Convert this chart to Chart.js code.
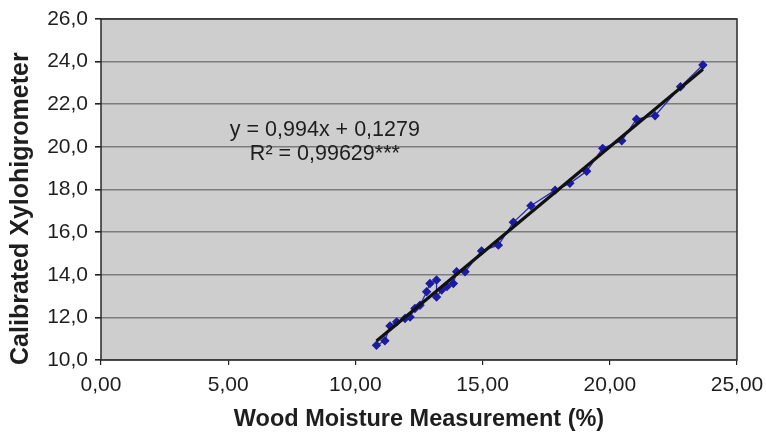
<!DOCTYPE html>
<html>
<head>
<meta charset="utf-8">
<script src="https://cdn.jsdelivr.net/npm/chart.js@4"></script>
<style>
  html, body { margin: 0; padding: 0; background: #fff; }
  #wrap { width: 766px; height: 434px; }
</style>
</head>
<body>
<div id="wrap"><canvas id="calChart" width="766" height="434"></canvas></div>
<script>
// Wood moisture (%) vs calibrated xylohigrometer readings
const woodMoisture = [10.83, 11.16, 11.36, 11.62, 11.95, 12.15, 12.34, 12.54, 12.80, 12.93,
  13.19, 13.19, 13.39, 13.60, 13.85, 13.98, 14.31, 14.96, 15.62, 16.21,
  16.90, 17.85, 18.43, 19.09, 19.72, 20.47, 21.05, 21.78, 22.78, 23.66];
const xylohigrometer = [10.69, 10.90, 11.60, 11.79, 11.95, 12.02, 12.42, 12.57, 13.20, 13.59,
  13.75, 12.96, 13.28, 13.45, 13.59, 14.14, 14.14, 15.12, 15.39, 16.46,
  17.24, 17.97, 18.29, 18.86, 19.93, 20.29, 21.30, 21.46, 22.82, 23.84];

// regression from the figure
const slope = 0.994;
const intercept = 0.1279;
const eqLines = ["y = 0,994x + 0,1279", "R\u00b2 = 0,99629***"];

const xTicks = [0, 5, 10, 15, 20, 25];
const yTicks = [10, 12, 14, 16, 18, 20, 22, 24, 26];
const yTitle = "Calibrated Xylohigrometer";
const xTitle = "Wood Moisture Measurement (%)";

const points = woodMoisture.map((x, i) => ({ x, y: xylohigrometer[i] }));
const xMin = Math.min(...woodMoisture);
const xMax = Math.max(...woodMoisture);
const trend = [xMin, xMax].map(x => ({ x, y: slope * x + intercept }));

const comma = (v, d) => v.toFixed(d).replace(".", ",");
const FONT = "'Liberation Sans', Arial, sans-serif";

// grey plot area, dark frame, equation text and the y title
const plotFrame = {
  id: "plotFrame",
  beforeDatasetsDraw(chart) {
    const { ctx, chartArea: a } = chart;
    ctx.save();
    ctx.fillStyle = "#cecece";
    ctx.globalCompositeOperation = "destination-over";
    ctx.fillRect(a.left, a.top, a.width, a.height);
    ctx.restore();
  },
  afterDatasetsDraw(chart) {
    const { ctx, chartArea: a, scales } = chart;
    ctx.save();
    ctx.strokeStyle = "#2a2a2a";
    ctx.lineWidth = 1.5;
    ctx.strokeRect(a.left, a.top, a.width, a.height);

    ctx.fillStyle = "#1e1e1e";
    ctx.font = "21.5px " + FONT;
    ctx.textAlign = "center";
    ctx.textBaseline = "middle";
    const cx = scales.x.getPixelForValue(8.8);
    ctx.fillText(eqLines[0], cx, scales.y.getPixelForValue(20.8));
    ctx.fillText(eqLines[1], cx, scales.y.getPixelForValue(19.65));

    // y title sits a little below the middle of the axis in the original
    ctx.font = "bold 25px " + FONT;
    ctx.translate(21, scales.y.getPixelForValue(17.1));
    ctx.rotate(-Math.PI / 2);
    ctx.fillText(yTitle, 0, 0);
    ctx.restore();
  }
};

Chart.defaults.font.family = FONT;
Chart.defaults.color = "#1e1e1e";

new Chart(document.getElementById("calChart").getContext("2d"), {
  type: "scatter",
  data: {
    datasets: [
      {
        label: "Trend",
        data: trend,
        showLine: true,
        borderColor: "#111111",
        borderWidth: 3.2,
        pointRadius: 0,
        order: 0
      },
      {
        label: "Measurements",
        data: points,
        showLine: true,
        borderColor: "#2b2bb0",
        borderWidth: 1.3,
        backgroundColor: "#1c1ca0",
        pointBackgroundColor: "#1c1ca0",
        pointBorderColor: "#1c1ca0",
        pointStyle: "rectRot",
        pointRadius: 3.8,
        order: 1
      }
    ]
  },
  options: {
    responsive: false,
    animation: false,
    layout: { padding: { top: 19, right: 29, left: 0, bottom: 0 } },
    plugins: { legend: { display: false }, tooltip: { enabled: false } },
    scales: {
      x: {
        type: "linear",
        min: 0,
        max: 25,
        afterBuildTicks: s => { s.ticks = xTicks.map(v => ({ value: v })); },
        afterFit: s => { s.height = 74; s.paddingLeft = 0; s.paddingRight = 0; },
        grid: { drawOnChartArea: false, color: "#222", tickLength: 5, lineWidth: 1.2 },
        border: { display: false },
        ticks: {
          callback: v => comma(v, 2),
          font: { size: 21 },
          color: "#1e1e1e",
          padding: 8,
          maxRotation: 0
        },
        title: {
          display: true,
          text: xTitle,
          font: { size: 23.5, weight: "bold" },
          color: "#1e1e1e",
          padding: { top: 0, bottom: 0 }
        }
      },
      y: {
        type: "linear",
        min: 10,
        max: 26,
        afterBuildTicks: s => { s.ticks = yTicks.map(v => ({ value: v })); },
        afterFit: s => { s.width = 101; s.paddingTop = 0; s.paddingBottom = 0; },
        grid: {
          color: "#7c7c7c",
          lineWidth: 1.6,
          tickColor: "#222",
          tickLength: 6
        },
        border: { display: false },
        ticks: {
          callback: v => comma(v, 1),
          font: { size: 21 },
          color: "#1e1e1e",
          padding: 7
        },
        title: { display: false }
      }
    }
  },
  plugins: [plotFrame]
});
</script>
</body>
</html>
